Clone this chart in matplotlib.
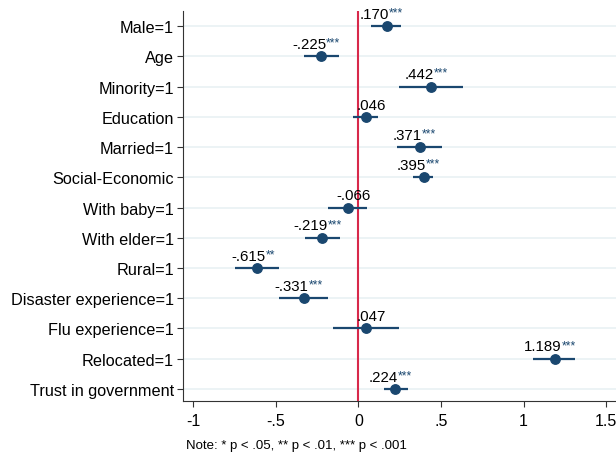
import matplotlib.pyplot as plt

plt.rcParams['font.family'] = ['Liberation Sans', 'DejaVu Sans']

# coefficients and 95% CI
variables = ["Male=1", "Age", "Minority=1", "Education", "Married=1",
             "Social-Economic", "With baby=1", "With elder=1", "Rural=1",
             "Disaster experience=1", "Flu experience=1", "Relocated=1",
             "Trust in government"]
coef = [0.170, -0.225, 0.442, 0.046, 0.371, 0.395, -0.066, -0.219, -0.615,
        -0.331, 0.047, 1.189, 0.224]
ci_low = [0.075, -0.329, 0.247, -0.032, 0.234, 0.331, -0.186, -0.323, -0.747,
          -0.479, -0.153, 1.057, 0.154]
ci_high = [0.257, -0.121, 0.633, 0.119, 0.503, 0.451, 0.051, -0.111, -0.479,
           -0.184, 0.245, 1.309, 0.299]
labels = [".170", "-.225", ".442", ".046", ".371", ".395", "-.066", "-.219",
          "-.615", "-.331", ".047", "1.189", ".224"]
stars = ["***", "***", "***", "", "***", "***", "", "***", "**", "***", "",
         "***", "***"]
xticks = [-1, -0.5, 0, 0.5, 1, 1.5]
xticklabels = ["-1", "-.5", "0", ".5", "1", "1.5"]

navy = "#1a476f"

fig = plt.figure(figsize=(6.16, 4.56), dpi=100)
ax = fig.add_axes([183 / 616, 1 - 402 / 456, 1 - 183 / 616, (402 - 12) / 456])

ypos = list(range(len(variables)))
for y in ypos:
    ax.axhline(y, color="#e9f1f3", lw=1.2, zorder=0)
ax.axvline(0, color="#d8294b", lw=1.5, zorder=1)

ax.hlines(ypos, ci_low, ci_high, color=navy, lw=1.6, zorder=2)
ax.plot(coef, ypos, "o", color=navy, ms=6.8, zorder=3)

for x, y, lab, st in zip(coef, ypos, labels, stars):
    shift = -2.9 * len(st) if st else 4
    t = ax.annotate(lab, (x, y), xytext=(shift, 3.8), textcoords="offset points",
                    ha="center", va="bottom", fontsize=10.8, color="black")
    if st:
        ax.annotate(st, xy=(1, 1.03), xycoords=t, ha="left", va="top",
                    fontsize=8.8, color=navy)

ax.set_ylim(12.4, -0.5)
ax.set_xlim(-1.063, 1.56)
ax.set_yticks(ypos)
ax.set_yticklabels(variables)
ax.set_xticks(xticks)
ax.set_xticklabels(xticklabels)
ax.tick_params(axis="both", labelsize=11.7, length=4.5, width=0.8,
               color="#333333", pad=2)
ax.tick_params(axis="x", labelsize=11.5, pad=4)
for s in ["top", "right"]:
    ax.spines[s].set_visible(False)
for s in ["left", "bottom"]:
    ax.spines[s].set_color("#333333")
    ax.spines[s].set_linewidth(0.8)

fig.text(186 / 616, 1 - 446 / 456, "Note: * p < .05, ** p < .01, *** p < .001",
         fontsize=9.5, va="center", ha="left")

fig.savefig("out.png", dpi=100)
